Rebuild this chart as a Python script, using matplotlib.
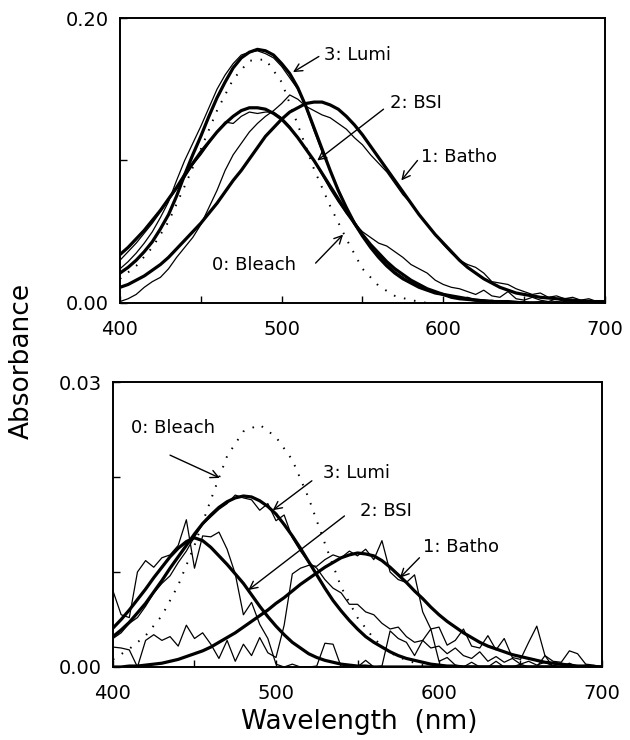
import numpy as np
import matplotlib
matplotlib.use('Agg')
import matplotlib.pyplot as plt

plt.rcParams['font.family'] = ['DejaVu Sans']

# wavelength grids
wl = np.arange(400, 701, 5)
wl_blc = np.arange(400, 601, 10)

# ---- top panel: fitted spectra (5 nm) ----
top_lumi = [0.021, 0.025, 0.030, 0.036, 0.043, 0.052, 0.062, 0.075, 0.090, 0.104,
            0.117, 0.131, 0.144, 0.155, 0.165, 0.172, 0.176, 0.178, 0.177, 0.174,
            0.168, 0.161, 0.151, 0.138, 0.123, 0.108, 0.093, 0.079, 0.067, 0.056,
            0.047, 0.039, 0.032, 0.026, 0.021, 0.017, 0.014, 0.011, 0.009, 0.007,
            0.006, 0.004, 0.003, 0.0025, 0.002, 0.0015, 0.001, 0.001, 0.001, 0.0005,
            0, 0, 0, 0, 0, 0, 0, 0, 0, 0, 0]
top_bsi = [0.034, 0.039, 0.045, 0.051, 0.058, 0.065, 0.073, 0.081, 0.090, 0.098,
           0.106, 0.113, 0.120, 0.126, 0.131, 0.135, 0.137, 0.137, 0.136, 0.133,
           0.129, 0.123, 0.116, 0.108, 0.100, 0.091, 0.082, 0.073, 0.064, 0.056,
           0.048, 0.041, 0.035, 0.029, 0.024, 0.020, 0.016, 0.013, 0.010, 0.008,
           0.006, 0.005, 0.004, 0.003, 0.002, 0.0015, 0.001, 0.001, 0.0005, 0.0003,
           0, 0, 0, 0, 0, 0, 0, 0, 0, 0, 0]
top_batho = [0.011, 0.013, 0.016, 0.019, 0.023, 0.027, 0.032, 0.038, 0.044, 0.050,
             0.056, 0.063, 0.070, 0.078, 0.086, 0.093, 0.101, 0.109, 0.117, 0.123,
             0.129, 0.134, 0.137, 0.140, 0.141, 0.141, 0.139, 0.136, 0.131, 0.125,
             0.118, 0.110, 0.102, 0.094, 0.086, 0.078, 0.070, 0.062, 0.055, 0.048,
             0.042, 0.036, 0.030, 0.025, 0.021, 0.017, 0.014, 0.011, 0.009, 0.007,
             0.006, 0.005, 0.004, 0.0035, 0.003, 0.0025, 0.002, 0.0015, 0.001, 0.001, 0.001]
top_bleach = [0.017, 0.026, 0.039, 0.057, 0.082, 0.108, 0.135, 0.157, 0.170, 0.171, 0.155,
              0.125, 0.094, 0.068, 0.045, 0.024, 0.012, 0.005, 0.002, 0.0, 0.0]

# ---- top panel: measured spectra (5 nm) ----
top_lumi_d = [0.024, 0.029, 0.035, 0.042, 0.050, 0.060, 0.071, 0.086, 0.100, 0.112,
              0.124, 0.137, 0.150, 0.160, 0.168, 0.174, 0.176, 0.177, 0.175, 0.172,
              0.166, 0.158, 0.150, 0.137, 0.121, 0.106, 0.093, 0.080, 0.067, 0.057,
              0.048, 0.040, 0.033, 0.027, 0.022, 0.018, 0.014, 0.011, 0.009, 0.007,
              0.006, 0.004, 0.003, 0.004, 0.002, 0.001, 0.002, 0.001, 0.001, 0.000,
              0.001, 0.000, 0.001, 0.000, 0.001, 0.000, 0.001, 0.000, 0.001, 0.000, 0.000]
top_bsi_d = [0.030, 0.036, 0.042, 0.049, 0.056, 0.064, 0.072, 0.080, 0.088, 0.097,
             0.104, 0.112, 0.120, 0.127, 0.126, 0.131, 0.134, 0.133, 0.134, 0.134,
             0.130, 0.124, 0.116, 0.108, 0.100, 0.090, 0.080, 0.071, 0.063, 0.056,
             0.050, 0.046, 0.042, 0.040, 0.036, 0.032, 0.027, 0.024, 0.021, 0.016,
             0.013, 0.011, 0.010, 0.008, 0.006, 0.009, 0.005, 0.004, 0.008, 0.003,
             0.002, 0.004, 0.002, 0.001, 0.003, 0.001, 0.002, 0.001, 0.002, 0.000, 0.001]
top_batho_d = [0.001, 0.003, 0.006, 0.011, 0.015, 0.018, 0.024, 0.032, 0.039, 0.046,
               0.055, 0.067, 0.079, 0.093, 0.104, 0.112, 0.120, 0.126, 0.131, 0.135,
               0.140, 0.146, 0.143, 0.138, 0.135, 0.132, 0.130, 0.126, 0.122, 0.116,
               0.111, 0.104, 0.098, 0.092, 0.084, 0.076, 0.070, 0.062, 0.055, 0.048,
               0.041, 0.035, 0.030, 0.027, 0.025, 0.021, 0.015, 0.014, 0.013, 0.010,
               0.008, 0.006, 0.007, 0.004, 0.005, 0.003, 0.004, 0.002, 0.003, 0.001, 0.001]

# ---- bottom panel: fitted spectra (5 nm) ----
bot_lumi = [0.0032, 0.0039, 0.0047, 0.0057, 0.0067, 0.0079, 0.0091, 0.0104, 0.0116, 0.0128,
            0.0140, 0.0151, 0.0160, 0.0168, 0.0174, 0.0178, 0.0180, 0.0179, 0.0175, 0.0169,
            0.0161, 0.0150, 0.0138, 0.0125, 0.0111, 0.0097, 0.0083, 0.0070, 0.0059, 0.0049,
            0.0040, 0.0032, 0.0026, 0.0021, 0.0016, 0.0012, 0.0009, 0.0007, 0.0005, 0.0003,
            0.0002, 0.0001, 0.0001, 0, 0, 0, 0, 0, 0, 0,
            0, 0, 0, 0, 0, 0, 0, 0, 0, 0, 0]
bot_bsi = [0.0041, 0.0050, 0.0060, 0.0071, 0.0082, 0.0094, 0.0105, 0.0116, 0.0125, 0.0132,
           0.0136, 0.0133, 0.0126, 0.0117, 0.0108, 0.0098, 0.0088, 0.0076, 0.0064, 0.0053,
           0.0043, 0.0034, 0.0026, 0.0020, 0.0014, 0.0010, 0.0007, 0.0005, 0.0003, 0.0002,
           0.0001, 0.0001, 0, 0, 0, 0, 0, 0, 0, 0,
           0, 0, 0, 0, 0, 0, 0, 0, 0, 0,
           0, 0, 0, 0, 0, 0, 0, 0, 0, 0, 0]
bot_batho = [0.0000, 0.0000, 0.0001, 0.0001, 0.0002, 0.0003, 0.0004, 0.0006, 0.0008, 0.0011,
             0.0014, 0.0017, 0.0021, 0.0026, 0.0031, 0.0036, 0.0042, 0.0048, 0.0054, 0.0060,
             0.0067, 0.0073, 0.0080, 0.0087, 0.0093, 0.0099, 0.0105, 0.0110, 0.0115, 0.0118,
             0.0120, 0.0119, 0.0117, 0.0112, 0.0105, 0.0097, 0.0089, 0.0080, 0.0072, 0.0063,
             0.0055, 0.0048, 0.0042, 0.0036, 0.0031, 0.0026, 0.0022, 0.0019, 0.0016, 0.0013,
             0.0011, 0.0009, 0.0007, 0.0005, 0.0004, 0.0003, 0.0002, 0.0001, 0.0001, 0.0, 0.0]
bot_bleach = [0.0008, 0.0019, 0.0033, 0.0054, 0.0086, 0.0128, 0.0176, 0.0222, 0.0248, 0.0255,
              0.0242, 0.0218, 0.0178, 0.0130, 0.0084, 0.0052, 0.0030, 0.0015, 0.0007, 0.0002, 0.0]

# ---- bottom panel: measured spectra (5 nm) ----
bot_lumi_d = [0.0030, 0.0036, 0.0046, 0.0052, 0.0064, 0.0078, 0.0088, 0.0096, 0.0110, 0.0122,
              0.0137, 0.0150, 0.0158, 0.0166, 0.0172, 0.0181, 0.0178, 0.0176, 0.0165, 0.0172,
              0.0154, 0.0160, 0.0136, 0.0122, 0.0110, 0.0104, 0.0092, 0.0083, 0.0078, 0.0066,
              0.0066, 0.0058, 0.0055, 0.0046, 0.0040, 0.0042, 0.0032, 0.0026, 0.0028, 0.0020,
              0.0022, 0.0014, 0.0020, 0.0012, 0.0009, 0.0016, 0.0006, 0.0011, 0.0005, 0.0009,
              0.0003, 0.0006, 0.0002, 0.0005, 0.0001, 0.0004, 0.0002, 0.0000, 0.0002, 0.0001, 0.0]
bot_bsi_d = [0.0080, 0.0055, 0.0052, 0.0100, 0.0112, 0.0105, 0.0115, 0.0118, 0.0128, 0.0155,
             0.0104, 0.0138, 0.0137, 0.0142, 0.0124, 0.0098, 0.0055, 0.0068, 0.0045, 0.0030,
             0.0003, 0.0000, 0.0003, 0.0000, 0.0000, 0.0001, 0.0025, 0.0024, 0.0000, 0.0002,
             0.0000, 0.0007, 0.0000, 0.0001, 0.0038, 0.0030, 0.0026, 0.0012, 0.0028, 0.0040,
             0.0006, 0.0010, 0.0002, 0.0000, 0.0005, 0.0000, 0.0000, 0.0006, 0.0000, 0.0000,
             0.0003, 0.0000, 0.0000, 0.0012, 0.0000, 0.0000, 0.0004, 0.0000, 0.0000, 0.0000, 0.0]
bot_batho_d = [0.0021, 0.0020, 0.0018, 0.0000, 0.0028, 0.0034, 0.0028, 0.0032, 0.0022, 0.0044,
               0.0030, 0.0036, 0.0024, 0.0009, 0.0028, 0.0006, 0.0024, 0.0012, 0.0031, 0.0015,
               0.0010, 0.0044, 0.0098, 0.0104, 0.0107, 0.0106, 0.0113, 0.0118, 0.0115, 0.0122,
               0.0117, 0.0124, 0.0113, 0.0133, 0.0100, 0.0092, 0.0089, 0.0097, 0.0058, 0.0040,
               0.0042, 0.0023, 0.0028, 0.0040, 0.0022, 0.0020, 0.0033, 0.0018, 0.0030, 0.0010,
               0.0008, 0.0026, 0.0043, 0.0012, 0.0006, 0.0005, 0.0017, 0.0014, 0.0003, 0.0002, 0.0]

# labels: (text, text x, text y, arrow tail x, tail y, tip x, tip y)
top_notes = [('3: Lumi', 526, 0.174, 523, 0.173, 507, 0.162),
             ('2: BSI', 567, 0.140, 563, 0.136, 522, 0.100),
             ('1: Batho', 586, 0.1025, 584, 0.100, 574, 0.086),
             ('0: Bleach', 457, 0.0267, 521, 0.028, 538, 0.048)]
bot_notes = [('0: Bleach', 411, 0.0252, 435, 0.0223, 465.5, 0.0199),
             ('3: Lumi', 529, 0.0204, 522, 0.0196, 498, 0.0165),
             ('2: BSI', 551.5, 0.0164, 542, 0.0159, 483, 0.0081),
             ('1: Batho', 590, 0.0126, 588, 0.0115, 576, 0.0094)]

fig = plt.figure(figsize=(6.3, 7.4), dpi=100)
ax1 = fig.add_axes([120/630, 1-303/740, 485/630, 285/740])
ax2 = fig.add_axes([113/630, 1-667/740, 489/630, 285/740])

def draw(ax, fits, bleach, datas, notes, ymax, yticks, ylabels):
    for d in datas:
        ax.plot(wl, d, color='black', lw=0.9)
    for f in fits:
        ax.plot(wl, f, color='black', lw=2.3, solid_joinstyle='round')
    ax.plot(wl_blc, bleach, color='black', lw=1.4, linestyle=(0, (0.8, 4.5)))
    for t, tx, ty, x0, y0, x1, y1 in notes:
        ax.text(tx, ty, t, fontsize=13, va='center', ha='left')
        ax.annotate('', xy=(x1, y1), xytext=(x0, y0),
                    arrowprops=dict(arrowstyle='->', lw=1.0, color='black',
                                    shrinkA=0, shrinkB=0, mutation_scale=14))
    ax.set_xlim(400, 700)
    ax.set_ylim(0, ymax)
    ax.set_xticks(range(400, 701, 50))
    ax.set_xticklabels(['400', '', '500', '', '600', '', '700'])
    ax.set_yticks(yticks)
    ax.set_yticklabels(ylabels)
    ax.tick_params(direction='in', length=5, width=1, labelsize=14)
    ax.tick_params(axis='x', pad=12)
    ax.tick_params(axis='y', pad=8)
    for s in ax.spines.values():
        s.set_linewidth(1.4)

draw(ax1, [top_lumi, top_bsi, top_batho], top_bleach,
     [top_lumi_d, top_bsi_d, top_batho_d], top_notes, 0.20,
     [0, 0.1, 0.2], ['0.00', '', '0.20'])
draw(ax2, [bot_lumi, bot_bsi, bot_batho], bot_bleach,
     [bot_lumi_d, bot_bsi_d, bot_batho_d], bot_notes, 0.03,
     [0, 0.01, 0.02, 0.03], ['0.00', '', '', '0.03'])

fig.text(0.035, 0.512, 'Absorbance', rotation=90, fontsize=19, ha='center', va='center')
fig.text(0.571, 0.024, 'Wavelength  (nm)', fontsize=19, ha='center', va='center')

fig.savefig('out.png', dpi=100)
